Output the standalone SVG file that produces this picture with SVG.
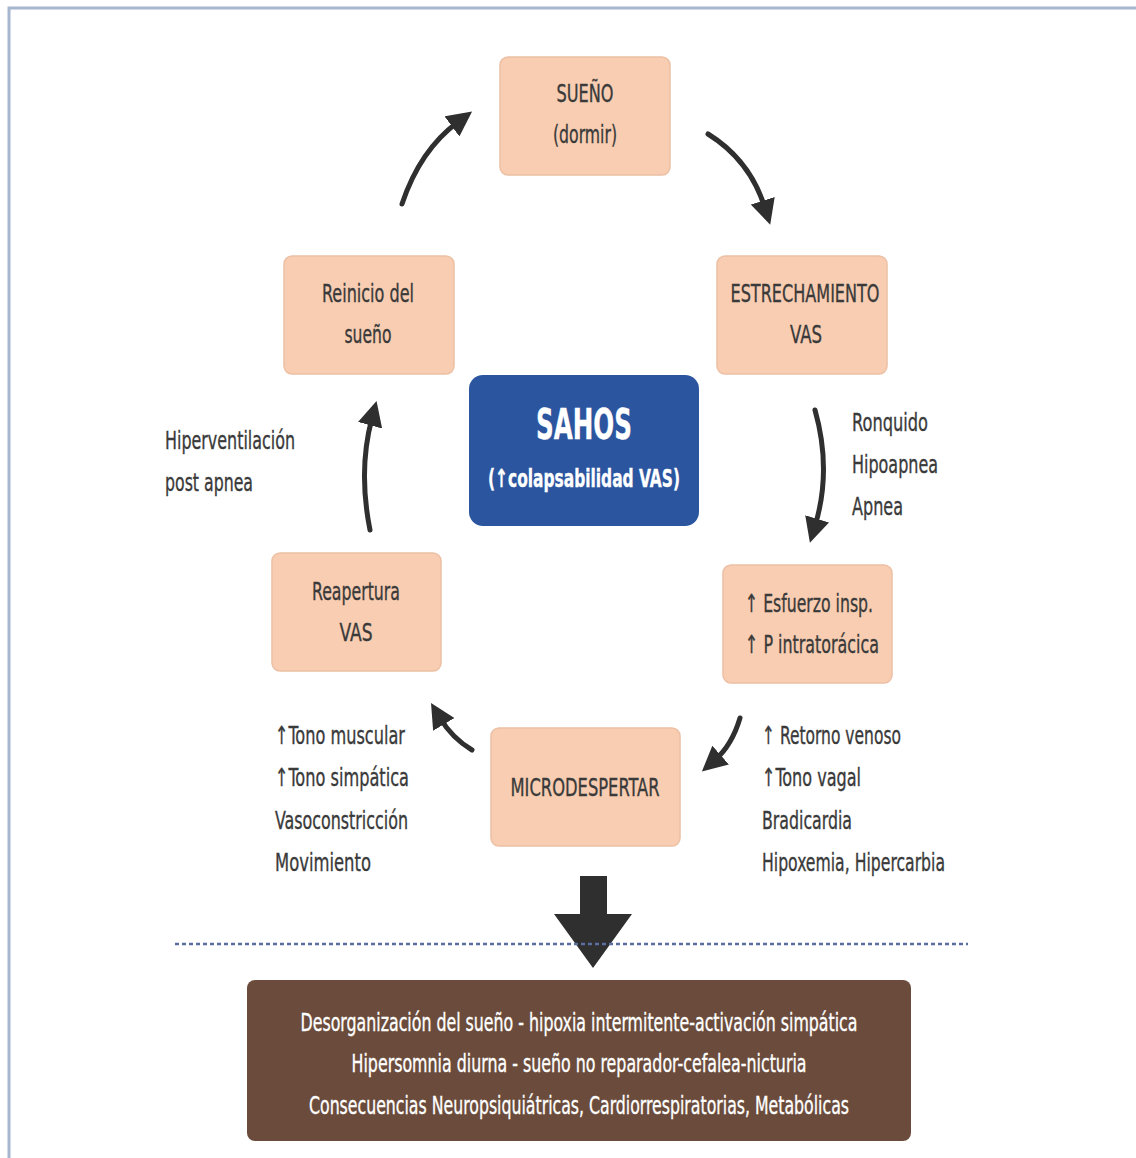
<svg xmlns="http://www.w3.org/2000/svg" width="1136" height="1158" viewBox="0 0 1136 1158">
<style>
.box{fill:#f8cdb1;stroke:#ecc0a4;stroke-width:1.5}
.t{font-family:"DejaVu Sans Condensed","DejaVu Sans","Liberation Sans",sans-serif;font-stretch:condensed;font-size:25px;fill:#3a3a3a;stroke:#3a3a3a;stroke-width:0.35}
.c{text-anchor:middle}
.w{fill:#ffffff;stroke:#ffffff}
.arr{fill:none;stroke:#2f2f2f;stroke-width:5;stroke-linecap:round}
</style>
<defs>
<marker id="ah" viewBox="0 0 10 10" refX="3" refY="5" markerWidth="5" markerHeight="5" orient="auto" markerUnits="strokeWidth">
<path d="M0,0 L10,5 L0,10 z" fill="#2f2f2f"/>
</marker>
</defs>
<rect width="1136" height="1158" fill="#ffffff"/>
<path d="M9,1158 V8 H1136" fill="none" stroke="#a7b6cf" stroke-width="3"/>

<g id="connectors">
<path class="arr" d="M402,204 Q420,150 458,122" marker-end="url(#ah)"/>
<path class="arr" d="M708,134 Q750,160 765,208" marker-end="url(#ah)"/>
<path class="arr" d="M815,410 Q832,470 815,526" marker-end="url(#ah)"/>
<path class="arr" d="M370,530 Q358,470 372,418" marker-end="url(#ah)"/>
<path class="arr" d="M740,718 Q732,745 715,760" marker-end="url(#ah)"/>
<path class="arr" d="M472,750 Q452,738 440,718" marker-end="url(#ah)"/>
<path d="M580,876 H607 V914 H632 L593,968 L554,914 H580 Z" fill="#2f2f2f"/>
<line x1="175" y1="944" x2="968" y2="944" stroke="#5a6ea0" stroke-width="2.5" stroke-dasharray="4 3"/>
</g>

<g id="sueno">
<rect class="box" x="500" y="57" width="170" height="118" rx="8"/>
<text class="t c" x="585" y="102" textLength="57" lengthAdjust="spacingAndGlyphs">SUEÑO</text>
<text class="t c" x="585" y="143" textLength="64" lengthAdjust="spacingAndGlyphs">(dormir)</text>
</g>
<g id="reinicio">
<rect class="box" x="284" y="256" width="170" height="118" rx="8"/>
<text class="t c" x="368" y="302" textLength="92" lengthAdjust="spacingAndGlyphs">Reinicio del</text>
<text class="t c" x="368" y="343" textLength="47" lengthAdjust="spacingAndGlyphs">sueño</text>
</g>
<g id="estrechamiento">
<rect class="box" x="717" y="256" width="170" height="118" rx="8"/>
<text class="t c" x="805" y="302" textLength="149" lengthAdjust="spacingAndGlyphs">ESTRECHAMIENTO</text>
<text class="t c" x="806" y="343" textLength="32" lengthAdjust="spacingAndGlyphs">VAS</text>
</g>
<g id="sahos">
<rect x="469" y="375" width="230" height="151" rx="14" fill="#2c55a0"/>
<text class="t c w" x="584" y="439" style="font-size:42px;font-weight:bold" textLength="96" lengthAdjust="spacingAndGlyphs">SAHOS</text>
<text class="t c w" x="584" y="487" style="font-weight:bold" textLength="192" lengthAdjust="spacingAndGlyphs">(↑colapsabilidad VAS)</text>
</g>
<g id="reapertura">
<rect class="box" x="272" y="553" width="169" height="118" rx="8"/>
<text class="t c" x="356" y="600" textLength="88" lengthAdjust="spacingAndGlyphs">Reapertura</text>
<text class="t c" x="356" y="641" textLength="33" lengthAdjust="spacingAndGlyphs">VAS</text>
</g>
<g id="esfuerzo">
<rect class="box" x="723" y="565" width="169" height="118" rx="8"/>
<text class="t" x="745" y="612" textLength="128" lengthAdjust="spacingAndGlyphs">↑ Esfuerzo insp.</text>
<text class="t" x="745" y="653" textLength="134" lengthAdjust="spacingAndGlyphs">↑ P intratorácica</text>
</g>
<g id="microdespertar">
<rect class="box" x="491" y="728" width="189" height="118" rx="8"/>
<text class="t c" x="585" y="796" textLength="149" lengthAdjust="spacingAndGlyphs">MICRODESPERTAR</text>
</g>
<g id="consecuencias">
<rect x="247" y="980" width="664" height="161" rx="8" fill="#6b4c3c"/>
<text class="t c w" x="579" y="1031" textLength="557" lengthAdjust="spacingAndGlyphs">Desorganización del sueño - hipoxia intermitente-activación simpática</text>
<text class="t c w" x="579" y="1072" textLength="455" lengthAdjust="spacingAndGlyphs">Hipersomnia diurna - sueño no reparador-cefalea-nicturia</text>
<text class="t c w" x="579" y="1114" textLength="540" lengthAdjust="spacingAndGlyphs">Consecuencias Neuropsiquiátricas, Cardiorrespiratorias, Metabólicas</text>
</g>

<g id="labels">
<text class="t" x="165" y="449" textLength="130" lengthAdjust="spacingAndGlyphs">Hiperventilación</text>
<text class="t" x="165" y="491" textLength="88" lengthAdjust="spacingAndGlyphs">post apnea</text>
<text class="t" x="852" y="431" textLength="76" lengthAdjust="spacingAndGlyphs">Ronquido</text>
<text class="t" x="852" y="473" textLength="86" lengthAdjust="spacingAndGlyphs">Hipoapnea</text>
<text class="t" x="852" y="515" textLength="51" lengthAdjust="spacingAndGlyphs">Apnea</text>
<text class="t" x="275" y="744" textLength="130" lengthAdjust="spacingAndGlyphs">↑Tono muscular</text>
<text class="t" x="275" y="786" textLength="134" lengthAdjust="spacingAndGlyphs">↑Tono simpática</text>
<text class="t" x="275" y="829" textLength="133" lengthAdjust="spacingAndGlyphs">Vasoconstricción</text>
<text class="t" x="275" y="871" textLength="96" lengthAdjust="spacingAndGlyphs">Movimiento</text>
<text class="t" x="762" y="744" textLength="139" lengthAdjust="spacingAndGlyphs">↑ Retorno venoso</text>
<text class="t" x="762" y="786" textLength="99" lengthAdjust="spacingAndGlyphs">↑Tono vagal</text>
<text class="t" x="762" y="829" textLength="90" lengthAdjust="spacingAndGlyphs">Bradicardia</text>
<text class="t" x="762" y="871" textLength="183" lengthAdjust="spacingAndGlyphs">Hipoxemia, Hipercarbia</text>
</g>
</svg>
